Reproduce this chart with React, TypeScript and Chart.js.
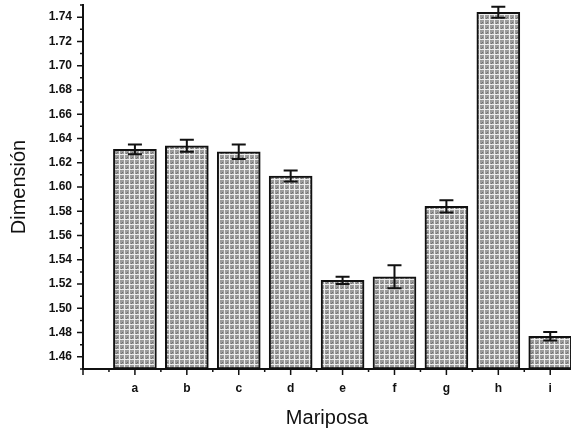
import React, { useEffect, useRef } from "react";
import { Chart, registerables } from "chart.js";

Chart.register(...registerables);

const categories = ["a", "b", "c", "d", "e", "f", "g", "h", "i"];
const values = [1.631, 1.634, 1.629, 1.609, 1.523, 1.526, 1.584, 1.744, 1.477];
const errors = [0.004, 0.005, 0.006, 0.0045, 0.003, 0.0095, 0.005, 0.0045, 0.0035];
const yTickValues = Array.from({ length: 31 }, (_, i) => Math.round((1.45 + i * 0.01) * 100) / 100);
const xTickValues = Array.from({ length: 19 }, (_, i) => -1 + i * 0.5);

function makePattern(): CanvasPattern | string {
  const c = document.createElement("canvas");
  c.width = 5;
  c.height = 5;
  const g = c.getContext("2d");
  if (!g) return "#aaa";
  g.fillStyle = "#9c9c9c";
  g.fillRect(0, 0, 5, 5);
  g.fillStyle = "#707070";
  g.fillRect(2, 2, 1, 1);
  g.fillRect(1, 3, 1, 1);
  g.fillStyle = "#ececec";
  g.fillRect(4, 0, 1, 5);
  g.fillRect(0, 4, 5, 1);
  return g.createPattern(c, "repeat") || "#aaa";
}

const ticksPlugin = {
  id: "customTicks",
  afterDraw(chart: any) {
    const ctx = chart.ctx;
    const ys = chart.scales.y;
    const xs = chart.scales.x;
    ctx.save();
    ctx.strokeStyle = "#111";
    ctx.lineWidth = 1.5;
    ctx.beginPath();
    for (const v of yTickValues) {
      const py = ys.getPixelForValue(v);
      const major = Math.round(v * 100) % 2 === 0;
      const len = major ? 6 : 3;
      ctx.moveTo(ys.right - len, py);
      ctx.lineTo(ys.right, py);
    }
    for (const v of xTickValues) {
      const px = xs.getPixelForValue(v);
      const major = Number.isInteger(v);
      const len = major ? 6 : 3;
      ctx.moveTo(px, xs.top);
      ctx.lineTo(px, xs.top + len);
    }
    ctx.stroke();
    ctx.restore();
  },
};

const errorPlugin = {
  id: "errorBars",
  afterDatasetsDraw(chart: any) {
    const ctx = chart.ctx;
    const ys = chart.scales.y;
    const xs = chart.scales.x;
    ctx.save();
    ctx.strokeStyle = "#111";
    ctx.lineWidth = 2;
    ctx.beginPath();
    values.forEach((v, i) => {
      const px = xs.getPixelForValue(i);
      const top = ys.getPixelForValue(v + errors[i]);
      const bot = ys.getPixelForValue(v - errors[i]);
      ctx.moveTo(px, top);
      ctx.lineTo(px, bot);
      ctx.moveTo(px - 7, top);
      ctx.lineTo(px + 7, top);
      ctx.moveTo(px - 7, bot);
      ctx.lineTo(px + 7, bot);
    });
    ctx.stroke();
    ctx.restore();
  },
};

export default function App() {
  const ref = useRef<HTMLCanvasElement>(null);
  useEffect(() => {
    document.body.style.margin = "0";
    if (!ref.current) return;
    const pattern = makePattern();
    const chart = new Chart(ref.current, {
      type: "bar",
      data: {
        datasets: [
          {
            data: values.map((v, i) => ({ x: i, y: v })),
            base: 1.45,
            backgroundColor: pattern as any,
            borderColor: "#111",
            borderWidth: 2,
            borderSkipped: false,
            barThickness: 43,
          } as any,
        ],
      },
      options: {
        animation: false,
        responsive: false,
        layout: { padding: { top: 5, right: 0, bottom: 0, left: 0 } },
        plugins: { legend: { display: false }, tooltip: { enabled: false } },
        scales: {
          x: {
            type: "linear",
            offset: false,
            min: -1,
            max: 8.4,
            afterBuildTicks: (s: any) => {
              s.ticks = xTickValues.map((v) => ({ value: v }));
            },
            afterFit: (s: any) => {
              s.height = 64;
              s.paddingLeft = 0;
              s.paddingRight = 0;
            },
            grid: { display: false, drawTicks: false, offset: false },
            border: { display: true, color: "#111", width: 2 },
            ticks: {
              autoSkip: false,
              maxRotation: 0,
              padding: 12,
              color: "#111",
              font: { family: "Liberation Sans", size: 12, weight: "bold" },
              callback: (v: any) => {
                const n = Number(v);
                return Number.isInteger(n) && n >= 0 && n < categories.length ? categories[n] : "";
              },
            },
            title: {
              display: true,
              text: "Mariposa",
              color: "#111",
              font: { family: "Liberation Sans", size: 20 },
              padding: { top: 0, bottom: 3 },
            },
          },
          y: {
            type: "linear",
            min: 1.45,
            max: 1.75,
            afterBuildTicks: (s: any) => {
              s.ticks = yTickValues.map((v) => ({ value: v }));
            },
            afterFit: (s: any) => {
              s.width = 83;
              s.paddingTop = 0;
              s.paddingBottom = 0;
            },
            grid: { display: false, drawTicks: false },
            border: { display: true, color: "#111", width: 2 },
            ticks: {
              autoSkip: false,
              padding: 11,
              color: "#111",
              font: { family: "Liberation Sans", size: 12, weight: "bold" },
              callback: (v: any) => {
                const n = Math.round(Number(v) * 100);
                return n % 2 === 0 && n >= 146 && n <= 174 ? (n / 100).toFixed(2) : "";
              },
            },
            title: {
              display: true,
              text: "Dimensión",
              color: "#111",
              font: { family: "Liberation Sans", size: 20 },
              padding: { top: 7, bottom: 0 },
            },
          },
        },
      },
      plugins: [ticksPlugin, errorPlugin],
    });
    return () => chart.destroy();
  }, []);
  return <canvas ref={ref} width={571} height={433} style={{ display: "block" }} />;
}
